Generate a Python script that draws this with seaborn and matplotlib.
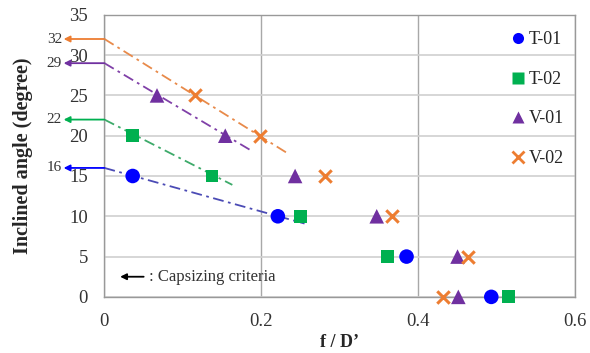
import pandas as pd
import numpy as np
import matplotlib
matplotlib.use('Agg')
import matplotlib.pyplot as plt
import seaborn as sns
from matplotlib.lines import Line2D

# measured points (f/D', inclined angle)
t01_x = [0.036, 0.221, 0.385, 0.493]
t01_y = [15, 10, 5, 0]
t02_x = [0.036, 0.137, 0.250, 0.361, 0.515]
t02_y = [20, 15, 10, 5, 0]
v01_x = [0.067, 0.154, 0.243, 0.347, 0.450, 0.451]
v01_y = [25, 20, 15, 10, 5, 0]
v02_x = [0.116, 0.198, 0.281, 0.367, 0.463, 0.431]
v02_y = [25, 20, 15, 10, 5, 0]

# extrapolated trend lines (start at f/D'=0, end point)
trend_x = {'T-01': [0, 0.255], 'T-02': [0, 0.163], 'V-01': [0, 0.188], 'V-02': [0, 0.232]}
trend_y = {'T-01': [16, 9.1], 'T-02': [22, 13.9], 'V-01': [29, 18.1], 'V-02': [32, 17.9]}

# capsizing criteria
criteria = {'T-01': 16, 'T-02': 22, 'V-01': 29, 'V-02': 32}

names = ['T-01', 'T-02', 'V-01', 'V-02']
colors = {'T-01': '#0000FF', 'T-02': '#00B050', 'V-01': '#7030A0', 'V-02': '#ED7D31'}
line_colors = {'T-01': '#4B4BB5', 'T-02': '#3DAA6A', 'V-01': '#8040A8', 'V-02': '#E88A4A'}
markers = {'T-01': 'o', 'T-02': 's', 'V-01': '^', 'V-02': 'x'}
sizes = {'T-01': 110, 'T-02': 85, 'V-01': 110, 'V-02': 80}

pts = pd.concat([
    pd.DataFrame({'x': t01_x, 'y': t01_y, 'case': 'T-01'}),
    pd.DataFrame({'x': t02_x, 'y': t02_y, 'case': 'T-02'}),
    pd.DataFrame({'x': v01_x, 'y': v01_y, 'case': 'V-01'}),
    pd.DataFrame({'x': v02_x, 'y': v02_y, 'case': 'V-02'}),
])

sns.set_style('white')
plt.rcParams['font.family'] = ['Liberation Serif', 'DejaVu Serif']

fig = plt.figure(figsize=(5.9, 3.53), dpi=100)
ax = fig.add_axes([0.177, 0.159, 0.798, 0.799])

for n in names:
    sns.lineplot(x=trend_x[n], y=trend_y[n], ax=ax, color=line_colors[n],
                 linestyle=(0, (6, 2.5, 1.5, 2.5)), linewidth=1.3, zorder=2)

for n in names:
    d = pts[pts['case'] == n]
    if markers[n] == 'x':
        sns.scatterplot(data=d, x='x', y='y', ax=ax, marker='x', color=colors[n],
                        s=sizes[n], linewidth=2.2, zorder=4, legend=False, clip_on=False)
    else:
        sns.scatterplot(data=d, x='x', y='y', ax=ax, marker=markers[n], color=colors[n],
                        s=sizes[n], edgecolor='none', zorder=4, legend=False, clip_on=False)

# capsizing criteria arrows on the left of the axis
for n in names:
    ax.annotate('', xy=(-0.052, criteria[n]), xytext=(0, criteria[n]),
                arrowprops=dict(arrowstyle='-|>', color=colors[n], lw=1.3,
                                mutation_scale=9, shrinkA=0, shrinkB=0),
                annotation_clip=False)
    ax.text(-0.054, criteria[n], str(criteria[n]), ha='right', va='center',
            fontsize=11, color='#333333', clip_on=False)

ax.annotate('', xy=(0.02, 2.5), xytext=(0.05, 2.5),
            arrowprops=dict(arrowstyle='-|>', color='black', lw=1.3,
                            mutation_scale=9, shrinkA=0, shrinkB=0))
ax.text(0.057, 2.5, ': Capsizing criteria', ha='left', va='center', fontsize=12, color='#333333')

ax.set_xlim(0, 0.6)
ax.set_ylim(0, 35)
ax.set_xticks([0, 0.2, 0.4, 0.6])
ax.set_xticklabels(['0', '0.2', '0.4', '0.6'])
ax.set_yticks(np.arange(0, 36, 5))
ax.yaxis.grid(True, color='#D0D0D0', linewidth=1.2)
ax.xaxis.grid(True, color='#A8A8A8', linewidth=1.0)
ax.set_axisbelow(True)
ax.tick_params(axis='both', direction='inout', length=6, width=1, color='#888888',
               labelsize=13.5, labelcolor='#333333')
ax.tick_params(axis='x', pad=8.5)
ax.tick_params(axis='y', pad=9)
for sp in ax.spines.values():
    sp.set_color('#999999')
    sp.set_linewidth(1.0)

ax.set_xlabel("f / D\u2019", fontsize=13, fontweight='bold', labelpad=3)
ax.set_ylabel('Inclined angle (degree)', fontsize=14.5, fontweight='bold', labelpad=26)

handles = []
for n in names:
    if markers[n] == 'x':
        handles.append(Line2D([], [], linestyle='none', marker='x', color=colors[n],
                              markersize=8, markeredgewidth=2))
    else:
        handles.append(Line2D([], [], linestyle='none', marker=markers[n], color=colors[n],
                              markeredgecolor='none', markersize=8))
ax.legend(handles, names, loc='upper right', bbox_to_anchor=(1.0, 0.98), frameon=False,
          fontsize=13, labelspacing=1.25, handletextpad=0.1, handlelength=1.0,
          borderaxespad=0.2)

plt.savefig('out.png', dpi=100)
